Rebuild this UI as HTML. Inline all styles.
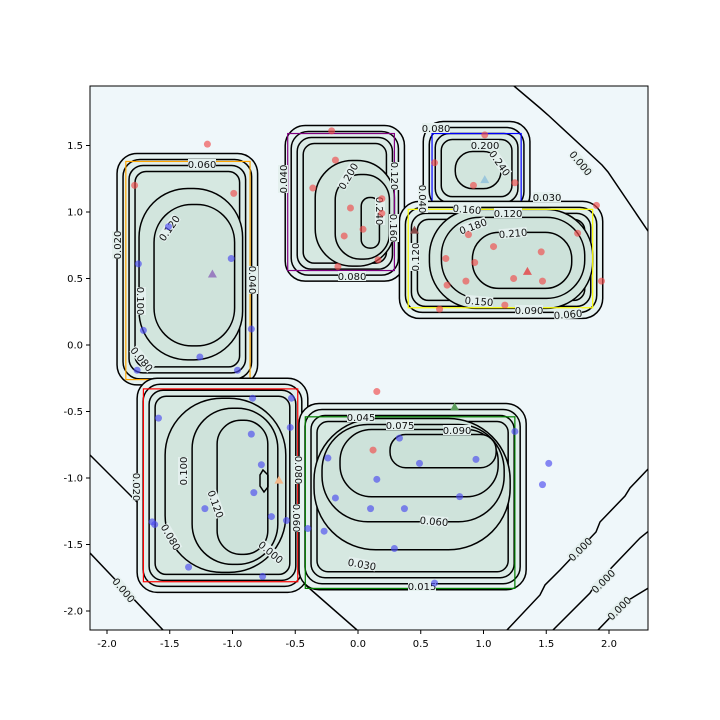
<!DOCTYPE html>
<html><head><meta charset="utf-8"><style>
body{margin:0;background:#fff}
svg{display:block;font-family:"DejaVu Sans","Liberation Sans",sans-serif}
</style></head><body>
<svg id="chart" width="720" height="720" viewBox="0 0 720 720"></svg>
<script>
// ---- data ----
const xTicks=[-2.0,-1.5,-1.0,-0.5,0.0,0.5,1.0,1.5,2.0];
const yTicks=[-2.0,-1.5,-1.0,-0.5,0.0,0.5,1.0,1.5];
const redX=[-1.20,-1.78,-0.99,-0.21,-0.18,-0.36,-0.06,0.19,-0.11,0.04,0.19,0.16,-0.16,0.61,0.92,1.25,1.01,0.88,0.70,0.71,0.93,0.86,1.08,1.24,1.46,1.47,1.75,1.90,1.94,1.17,0.65,0.15,0.12];
const redY=[1.51,1.20,1.14,1.61,1.39,1.18,1.03,1.10,0.82,0.87,0.99,0.64,0.59,1.37,1.20,1.22,1.58,0.83,0.65,0.45,0.62,0.48,0.74,0.50,0.70,0.48,0.84,1.05,0.48,0.30,0.27,-0.35,-0.79];
const blueX=[-1.51,-1.75,-1.01,-1.71,-1.26,-0.85,-0.96,-1.76,-0.84,-0.53,-1.59,-0.85,-0.54,-0.77,-0.83,-1.22,-0.69,-0.57,-1.64,-1.62,-1.35,-0.76,-0.40,-0.27,-0.24,-0.18,0.15,0.33,0.49,0.94,0.81,0.37,0.10,0.29,0.61,1.25,1.52,1.47];
const blueY=[0.89,0.61,0.65,0.11,-0.09,0.12,-0.19,-0.19,-0.40,-0.40,-0.55,-0.67,-0.62,-0.90,-1.11,-1.23,-1.29,-1.32,-1.33,-1.35,-1.67,-1.74,-1.38,-1.40,-0.85,-1.15,-1.01,-0.70,-0.89,-0.86,-1.14,-1.23,-1.23,-1.53,-1.79,-0.65,-0.89,-1.05];
const triX=[-1.16,1.01,1.35,0.77,-0.63,0.45];
const triY=[0.53,1.24,0.55,-0.47,-1.02,0.86];
const triColors=["#9a7fc0","#9cc7dc","#e06060","#5c9c5c","#f2b88a","#8a4a4a"];
const regionX0=[-1.92,-0.58,0.52,0.33,-1.76,-0.47];
const regionX1=[-0.80,0.37,1.37,1.95,-0.40,1.34];
const regionY0=[1.44,1.65,1.68,1.08,-0.25,-0.44];
const regionY1=[-0.30,0.48,0.98,0.20,-1.86,-1.84];
const boxX0=[-1.85,-0.56,0.59,0.40,-1.71,-0.42];
const boxX1=[-0.86,0.29,1.30,1.87,-0.48,1.25];
const boxY0=[1.38,1.59,1.59,1.02,-0.33,-0.54];
const boxY1=[-0.26,0.56,1.05,0.28,-1.78,-1.83];
const boxColors=["orange","purple","blue","yellow","red","green"];
// ---- axes ----
const L=90,R=648,T=86,B=630;
const sx=x=>358+x*125.5, sy=y=>345-y*133;
const NS="http://www.w3.org/2000/svg";
const svg=document.getElementById("chart");
function mk(t,a,p){const e=document.createElementNS(NS,t);for(const k in a)e.setAttribute(k,a[k]);(p||svg).appendChild(e);return e;}
mk("rect",{x:L,y:T,width:R-L,height:B-T,fill:"#eff7fa"});
const defs=mk("defs",{});const cp=mk("clipPath",{id:"pc"},defs);mk("rect",{x:L,y:T,width:R-L,height:B-T},cp);
const plot=mk("g",{"clip-path":"url(#pc)"});


const zeroLines=[[[514,86],[540,108],[548,115],[602,165],[608,172],[650,234]],[[90,455],[150,515],[154,522],[197,563],[220,585]],[[90,553],[163,630]],[[285,567],[357,630]],[[507,630],[540,595],[545,585],[560,570],[596,532],[600,522],[625,496],[630,488],[650,467]],[[553,630],[590,593],[595,585],[640,538],[650,530]],[[598,630],[625,602],[632,598],[650,587]]];
zeroLines.forEach(pts=>{const p=mk("polyline",{points:pts.map(q=>q.join(",")).join(" "),fill:"none",stroke:"#000","stroke-width":1.5},plot);});
const inner=[
 [[22,35,15,25],[37,51,23,39]],
 [[30,35,10,15],[50,49,15,22],[76,72,25,33]],
 [[32,30,29,26]],
 [[30,8,10,10],[42,16,18,20],[73,31,31,30]],
 [[28,20,22,20],[55,30,30,28],[80,42,40,38]],
 [[15,15,16,40],[23,21,22,68],[41,26,28,93],[91,31,30,122]]
];
const fills=["#e6f2f1","#e0efec","#dbebe6","#d6e8e1","#d2e5dd","#cfe3db","#cde2da","#cbe1d8","#c9e0d7"];
function rr(x0,y0,x1,y1,r,g,name){const p=mk("rect",{x:x0,y:y0,width:x1-x0,height:y1-y0,rx:r,ry:r,fill:g.fill,stroke:"#000","stroke-width":1.5},plot);return p;}
regionX0.forEach((_,i)=>{
 const x0=sx(regionX0[i]),x1=sx(regionX1[i]),y0=sy(regionY0[i]),y1=sy(regionY1[i]);
 let lvl=0;
 [0,6,12,18].forEach(d=>{rr(x0+d,y0+d,x1-d,y1-d,Math.max(8,20-d/2),{fill:fills[lvl++]},'contour-line');});
 inner[i].forEach(q=>{const w=x1-x0-q[0]-q[2],h=y1-y0-q[1]-q[3];rr(x0+q[0],y0+q[1],x1-q[2],y1-q[3],Math.min(w,h)*0.47,{fill:fills[Math.min(lvl++,8)]},'contour-line');});
 const b=mk("rect",{x:sx(boxX0[i]),y:sy(boxY0[i]),width:sx(boxX1[i])-sx(boxX0[i]),height:sy(boxY1[i])-sy(boxY0[i]),fill:"none",stroke:boxColors[i],"stroke-width":1.2},plot);
 
});
mk("polygon",{points:"263,470 268,475 268,487 264,492 260,486 260,475",fill:"none",stroke:"#000","stroke-width":1.5},plot);
const labels=[["0.060",202,164,0],["0.020",117,245,-90],["0.120",169,228,-55],["0.040",253,280,90],["0.100",141,301,90],["0.080",142,359,50],
["0.040",283,179,-90],["0.200",348,176,-60],["0.120",395,176,90],["0.160",394,228,90],["0.240",380,211,90],["0.080",352,276,0],
["0.080",436,128,0],["0.200",485,145,0],["0.240",500,163,55],["0.040",423,199,90],["0.160",467,209,5],["0.120",508,213,0],["0.030",547,197,0],["0.000",581,163,50],
["0.180",473,226,-20],["0.210",513,233,-5],["0.120",415,257,-90],["0.150",479,301,5],["0.090",529,310,0],["0.060",568,314,-5],
["0.100",183,471,-90],["0.120",216,504,70],["0.020",137,487,90],["0.080",171,537,60],["0.000",271,552,40],["0.080",299,470,90],["0.060",297,518,90],
["0.045",361,417,0],["0.075",400,425,0],["0.090",457,430,0],["0.060",434,521,5],["0.030",362,564,10],["0.015",422,586,0],
["0.000",124,590,50],["0.000",580,549,-45],["0.000",603,581,-45],["0.000",619,608,-45]];
labels.forEach(l=>{const g=mk("g",{transform:`translate(${l[1]},${l[2]}) rotate(${l[3]})`},plot);
 mk("rect",{x:-14,y:-5,width:28,height:10,fill:"#e4f0ee"},g);
 const t=mk("text",{x:0,y:4,"text-anchor":"middle","font-size":10,fill:"#111"},g);t.textContent=l[0];
 });
redX.forEach((x,i)=>{const c=mk("circle",{cx:sx(x),cy:sy(redY[i]),r:3.5,fill:"#f04a4a","fill-opacity":0.65},plot);});
blueX.forEach((x,i)=>{const c=mk("circle",{cx:sx(x),cy:sy(blueY[i]),r:3.5,fill:"#4a4af0","fill-opacity":0.65},plot);});
triX.forEach((x,i)=>{const X=sx(x),Y=sy(triY[i]);const p=mk("polygon",{points:`${X},${Y-5} ${X-4.5},${Y+3} ${X+4.5},${Y+3}`,fill:triColors[i]},plot);});
mk("rect",{x:L,y:T,width:R-L,height:B-T,fill:"none",stroke:"#000","stroke-width":1});
xTicks.forEach(v=>{const X=sx(v);mk("line",{x1:X,x2:X,y1:B,y2:B+4,stroke:"#000"});const t=mk("text",{x:X,y:B+17,"text-anchor":"middle","font-size":10},svg);t.textContent=v.toFixed(1);});
yTicks.forEach(v=>{const Y=sy(v);mk("line",{x1:L-4,x2:L,y1:Y,y2:Y,stroke:"#000"});const t=mk("text",{x:L-7,y:Y+3.5,"text-anchor":"end","font-size":10},svg);t.textContent=v.toFixed(1);});
</script>
</body></html>
